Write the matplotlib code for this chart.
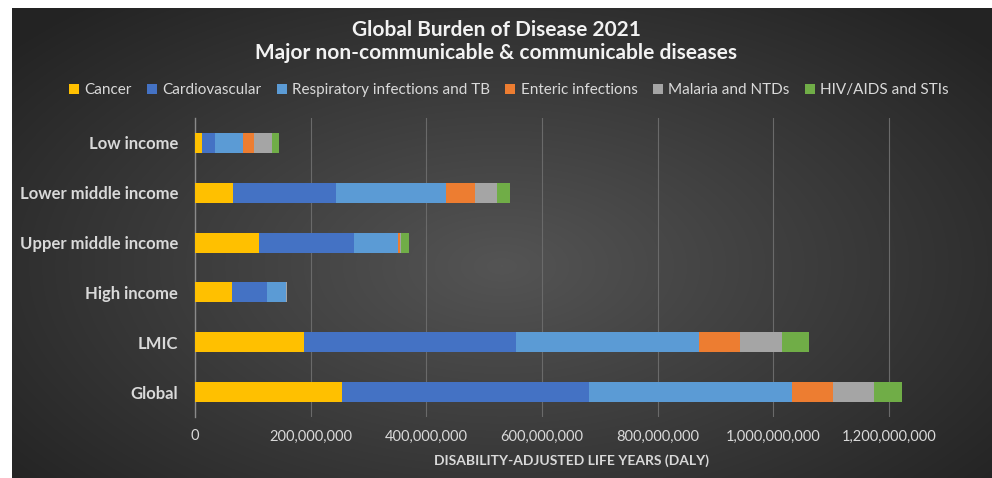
import numpy as np
import matplotlib
matplotlib.use("Agg")
import matplotlib.pyplot as plt
from matplotlib.patches import Patch
from matplotlib.ticker import FuncFormatter

plt.rcParams['font.family'] = ['Lato', 'DejaVu Sans']

# DALYs in millions, by income group and cause
groups = ["Low income", "Lower middle income", "Upper middle income",
          "High income", "LMIC", "Global"]
causes = ["Cancer", "Cardiovascular", "Respiratory infections and TB",
          "Enteric infections", "Malaria and NTDs", "HIV/AIDS and STIs"]
cancer = [11.6, 66.0, 110.6, 63.4, 188.4, 253.6]
cardiovascular = [23.0, 178.6, 164.2, 61.7, 366.8, 427.8]
respiratory = [49.0, 190.0, 76.6, 32.3, 315.5, 350.0]
enteric = [18.5, 50.0, 3.0, 0.6, 72.3, 71.4]
malaria = [31.6, 37.5, 1.5, 0.3, 71.0, 71.4]
hiv = [12.0, 22.0, 14.0, 1.5, 47.2, 48.4]
colors = ["#FFC000", "#4472C4", "#5B9BD5", "#ED7D31", "#A5A5A5", "#70AD47"]

series = [cancer, cardiovascular, respiratory, enteric, malaria, hiv]

fig = plt.figure(figsize=(9.92, 4.78), dpi=100)
fig.patch.set_facecolor("white")

# dark radial background panel
bg = fig.add_axes([12 / 992, 0, 980 / 992, 470 / 478])
bg.set_axis_off()
yy, xx = np.mgrid[0:1:300j, 0:1:600j]
r = np.sqrt(((xx - 0.5) / 0.75) ** 2 + ((yy - 0.55) / 0.85) ** 2)
shade = np.clip(0.33 - 0.22 * r, 0.14, 0.33)
bg.imshow(np.dstack([shade, shade, shade]), aspect="auto",
          extent=[0, 1, 0, 1], interpolation="bilinear")
bg.set_xlim(0, 1)
bg.set_ylim(0, 1)

ax = fig.add_axes([195 / 992, 1 - 417 / 478, (947 - 195) / 992, (417 - 118) / 478])
ax.patch.set_alpha(0)

y = np.arange(len(groups))
left = np.zeros(len(groups))
for vals, col in zip(series, colors):
    v = np.array(vals) * 1e6
    ax.barh(y, v, left=left, height=0.4, color=col, edgecolor="none", zorder=3)
    left += v

ax.set_yticks(y)
ax.set_yticklabels(groups, fontsize=12, fontweight="bold", color="#d9d9d9")
ax.invert_yaxis()
ax.set_ylim(len(groups) - 0.5, -0.5)
ax.set_xlim(0, 1.3e9)
ax.set_xticks(np.arange(0, 1.2e9 + 1, 2e8))
ax.xaxis.set_major_formatter(FuncFormatter(lambda v, p: f"{v:,.0f}"))
ax.tick_params(axis="x", colors="#d9d9d9", labelsize=10.5, length=0, pad=9)
ax.tick_params(axis="y", length=0, pad=12)
ax.grid(axis="x", color="#6a6a6a", linewidth=0.8, zorder=0)
for s in ["top", "right", "bottom"]:
    ax.spines[s].set_visible(False)
ax.spines["left"].set_color("#8a8a8a")
ax.spines["left"].set_linewidth(1.0)
ax.set_xlabel("DISABILITY-ADJUSTED LIFE YEARS (DALY)", fontsize=10,
              fontweight="bold", color="#d9d9d9", labelpad=8)

fig.text(0.5, 1 - 30 / 478, "Global Burden of Disease 2021", ha="center",
         va="center", fontsize=15, fontweight="bold", color="#f2f2f2")
fig.text(0.5, 1 - 53 / 478, "Major non-communicable & communicable diseases",
         ha="center", va="center", fontsize=15, fontweight="bold", color="#f2f2f2")

handles = [Patch(facecolor=c, edgecolor="none") for c in colors]
fig.legend(handles, causes, loc="center", bbox_to_anchor=(0.513, 1 - 90 / 478),
           ncol=6, frameon=False, fontsize=11, labelcolor="#d9d9d9",
           handlelength=0.65, handleheight=0.65, handletextpad=0.35,
           columnspacing=1.0)

fig.savefig("out.png", dpi=100, facecolor=fig.get_facecolor())
